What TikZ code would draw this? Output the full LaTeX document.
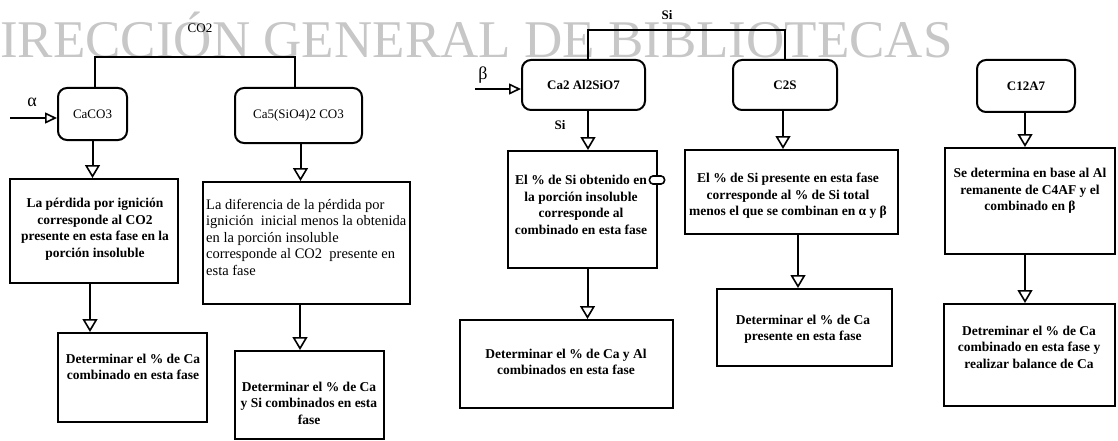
\documentclass[tikz,border=0pt]{standalone}
\usepackage{fontspec}
\setmainfont{Liberation Serif}
\usetikzlibrary{arrows.meta}
\begin{document}
\begin{tikzpicture}[x=1pt,y=-1pt,
  ln/.style={line width=2pt},
  arr/.style={line width=2pt,-{Triangle[open,length=13pt,width=15pt,line width=1.6pt]}},
  harr/.style={line width=1.7pt,-{Triangle[open,length=12pt,width=11pt,line width=1.6pt]}},
  topbox/.style={draw,line width=2pt,rounded corners=9pt,inner sep=0pt,font=\fontsize{13}{15}\selectfont},
  bbox/.style={draw,line width=2pt,inner sep=0pt},
  body/.style={font=\bfseries\fontsize{13.5}{16.5}\selectfont,align=center,inner sep=0pt},
  lab/.style={font=\fontsize{13}{15}\selectfont,inner sep=0pt},
  boldlab/.style={font=\bfseries\fontsize{13}{15}\selectfont},
  greek/.style={font=\fontsize{18}{18}\selectfont,inner sep=0pt},
  wmark/.style={anchor=base west,inner sep=0pt,text=black!22,font=\fontsize{53}{53}\selectfont}
]
\useasboundingbox (0,0) rectangle (1118,441);
\node[wmark] (wm) at (0,58) {IRECCIÓN GENERAL DE BIBLIOTECAS};

% ---------- left group ----------
\node[lab] (co2) at (200,28) {CO2};
\node[topbox,minimum width=69pt,minimum height=52pt] (caco) at (92.5,114) {CaCO3};
\node[topbox,minimum width=127pt,minimum height=55pt] (ca5) at (298.5,115.5) {Ca5(SiO4)2 CO3};
\coordinate (bl) at (95,57);
\coordinate (br) at (295,57);
\draw[ln] (caco.north -| bl) -- (bl) -- (br) -- (ca5.north -| br);
\node[greek] (alpha) at (32,102) {α};
\coordinate (ain) at (10,118);
\draw[harr] (ain) -- (ain -| caco.west);

\node[bbox,minimum width=168pt,minimum height=104pt] (perd) at (94,231) {};
\node[body] (perdt) at (95,229) {La pérdida por ignición\\corresponde al CO2\\presente en esta fase en la\\porción insoluble};

\node[bbox,minimum width=207pt,minimum height=122pt] (dif) at (306.5,243) {};
\node[body,font=\fontsize{14.5}{16.5}\selectfont,align=left,anchor=west] (dift) at (206,237) {La diferencia de la pérdida por\\ignición\ \ inicial menos la obtenida\\en la porción insoluble\\corresponde al CO2\ \ presente en\\esta fase};

\node[bbox,minimum width=149pt,minimum height=89pt] (detca) at (132.5,377.5) {};
\node[body] (detcat) at (133,367) {Determinar el \% de Ca\\combinado en esta fase};

\node[bbox,minimum width=149pt,minimum height=88pt] (detcasi) at (309.5,395) {};
\node[body] (detcasit) at (309,403) {Determinar el \% de Ca\\y Si combinados en esta\\fase};

\draw[arr] (caco.south) -- (caco.south |- perd.north);
\draw[arr] ([xshift=-4pt]perd.south) -- ([xshift=-4pt]perd.south |- detca.north);
\draw[arr] ([xshift=2pt]ca5.south) -- ([xshift=2pt]ca5.south |- dif.north);
\draw[arr] ([xshift=-6.5pt]dif.south) -- ([xshift=-6.5pt]dif.south |- detcasi.north);

% ---------- right group ----------
\node[lab,boldlab] (si1) at (667,15) {Si};
\node[topbox,boldlab,minimum width=123pt,minimum height=50pt] (ca2) at (583.5,85) {Ca2 Al2SiO7};
\node[topbox,boldlab,minimum width=104pt,minimum height=50pt] (c2s) at (785,85) {C2S};
\node[topbox,boldlab,minimum width=98pt,minimum height=52pt] (c12) at (1026,86) {C12A7};
\coordinate (bl2) at (588,30);
\coordinate (br2) at (785,30);
\draw[ln] (ca2.north -| bl2) -- (bl2) -- (br2) -- (c2s.north -| br2);
\node[greek] (beta) at (483,75) {β};
\coordinate (bin) at (475,89);
\draw[harr] (bin) -- (bin -| ca2.west);
\node[lab,boldlab] (si2) at (560,125) {Si};

\node[bbox,minimum width=149pt,minimum height=117pt] (siobt) at (582.5,209.5) {};
\node[body] (siobtt) at (581,205) {El \% de Si obtenido en\\la porción insoluble\\corresponde al\\combinado en esta fase};
\node[draw,line width=1.6pt,rounded corners=3.5pt,minimum width=15pt,minimum height=8pt,inner sep=0pt,fill=white] (tab) at (657,180) {};

\node[bbox,minimum width=213pt,minimum height=88pt] (caal) at (566.5,364) {};
\node[body] (caalt) at (566,362) {Determinar el \% de Ca y Al\\combinados en esta fase};

\node[bbox,minimum width=213pt,minimum height=84pt] (sipres) at (791.5,192) {};
\node[body] (siprest) at (788,196) {El \% de Si presente en esta fase\\corresponde al \% de Si total\\menos el que se combinan en α y β};

\node[bbox,minimum width=175pt,minimum height=77pt] (capres) at (804.5,327.5) {};
\node[body] (caprest) at (803,329) {Determinar el \% de Ca\\presente en esta fase};

\node[bbox,minimum width=170pt,minimum height=106pt] (seder) at (1030,201) {};
\node[body] (sedert) at (1030,191) {Se determina en base al Al\\remanente de C4AF y el\\combinado en β};

\node[bbox,minimum width=171pt,minimum height=102pt] (detb) at (1029.5,355) {};
\node[body] (detbt) at (1029,347) {Detreminar el \% de Ca\\combinado en esta fase y\\realizar balance de Ca};

\draw[arr] ([xshift=4.5pt]ca2.south) -- ([xshift=4.5pt]ca2.south |- siobt.north);
\draw[arr] ([xshift=5pt]siobt.south) -- ([xshift=5pt]siobt.south |- caal.north);
\draw[arr] ([xshift=-2pt]c2s.south) -- ([xshift=-2pt]c2s.south |- sipres.north);
\draw[arr] ([xshift=6.5pt]sipres.south) -- ([xshift=6.5pt]sipres.south |- capres.north);
\draw[arr] ([xshift=-1pt]c12.south) -- ([xshift=-1pt]c12.south |- seder.north);
\draw[arr] ([xshift=-5pt]seder.south) -- ([xshift=-5pt]seder.south |- detb.north);
\end{tikzpicture}
\end{document}
